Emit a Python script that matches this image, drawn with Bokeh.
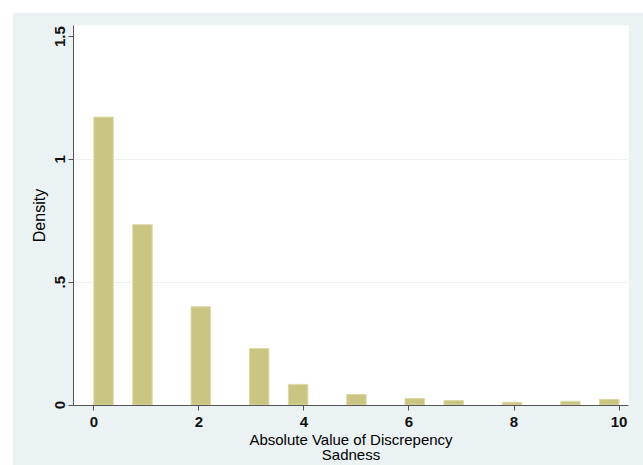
from bokeh.plotting import figure
from bokeh.models import ColumnDataSource, FixedTicker, Range1d
from bokeh.embed import file_html
from bokeh.resources import INLINE

# ---- data ----
bin_width = 10 / 27
bin_index = [0, 2, 5, 8, 10, 13, 16, 18, 21, 24, 26]
density = [1.172, 0.734, 0.400, 0.230, 0.084, 0.043, 0.027, 0.018, 0.011, 0.015, 0.023]
x_ticks = [0, 2, 4, 6, 8, 10]
y_ticks = [0, 0.5, 1, 1.5]
y_tick_labels = ["0", ".5", "1", "1.5"]
x_title = "Absolute Value of Discrepency\nSadness"
y_title = "Density"

left = [i * bin_width for i in bin_index]
right = [(i + 1) * bin_width for i in bin_index]
src = ColumnDataSource(dict(left=left, right=right, top=density, bottom=[0] * len(density)))

BG = "#EAF2F3"
FONT = "Liberation Sans"

p = figure(width=631, height=453, output_backend="svg", toolbar_location=None,
           x_range=Range1d(-0.387, 10.18), y_range=Range1d(-0.002, 1.545),
           min_border_left=61, min_border_right=15, min_border_top=13, min_border_bottom=56,
           background_fill_color="white", border_fill_color=BG, outline_line_color=None)
p.margin = (12, 0, 0, 12)

p.quad(left="left", right="right", top="top", bottom="bottom", source=src,
       fill_color="#CBC583", line_color="#DDD8A8", line_width=1)

# axes
p.xaxis.ticker = FixedTicker(ticks=x_ticks)
p.yaxis.ticker = FixedTicker(ticks=y_ticks)
p.yaxis.major_label_overrides = {t: s for t, s in zip(y_ticks, y_tick_labels)}
p.yaxis.major_label_orientation = "vertical"
for ax in (p.xaxis, p.yaxis):
    ax.axis_line_color = "#555555"
    ax.major_tick_line_color = "#555555"
    ax.major_tick_in = 0
    ax.major_tick_out = 5
    ax.minor_tick_line_color = None
    ax.major_label_text_font = FONT
    ax.major_label_text_font_size = "15px"
    ax.major_label_text_font_style = "bold"
    ax.major_label_text_color = "#111111"
    ax.axis_label_text_font = FONT
    ax.axis_label_text_font_style = "normal"
    ax.axis_label_text_color = "black"
p.xaxis.major_label_standoff = 6
p.xaxis.axis_label_standoff = 1
p.xaxis.axis_label = x_title
p.xaxis.axis_label_text_font_size = "15px"
p.xaxis.axis_label_text_line_height = 0.9
p.yaxis.major_label_standoff = 3
p.yaxis.axis_label_standoff = 5
p.yaxis.axis_label = y_title
p.yaxis.axis_label_text_font_size = "16px"

p.xgrid.grid_line_color = None
p.ygrid.ticker = FixedTicker(ticks=[0.5, 1])
p.ygrid.grid_line_color = BG
p.ygrid.grid_line_width = 1

open("out.html", "w").write(file_html(p, INLINE))
